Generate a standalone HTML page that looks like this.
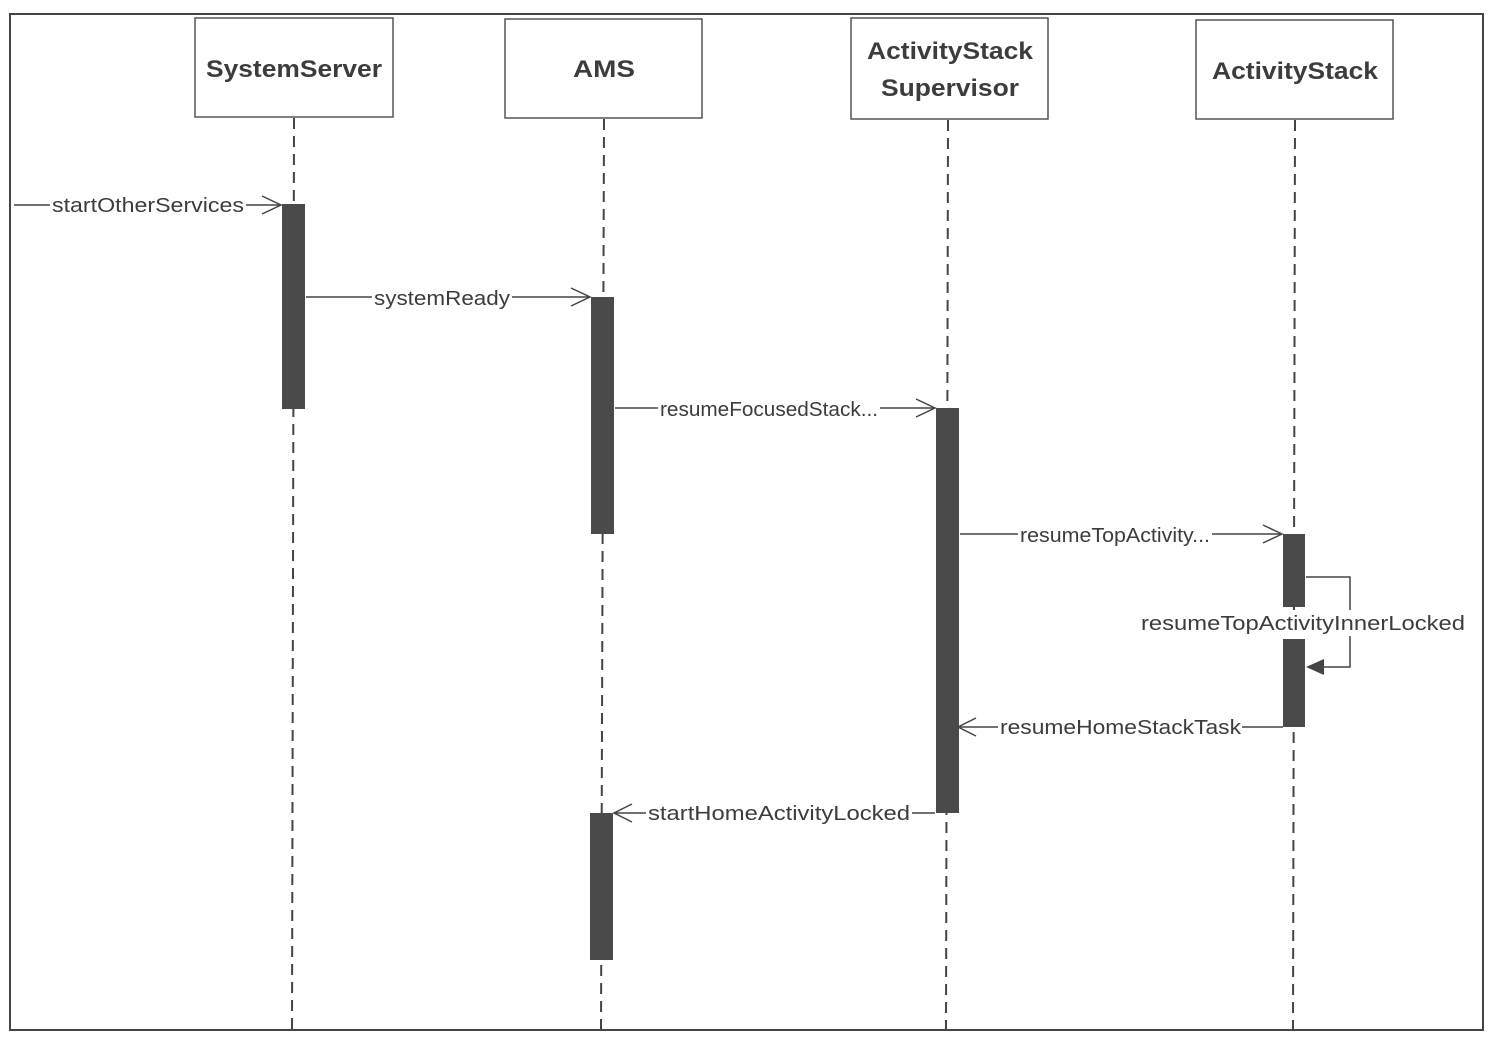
<!DOCTYPE html>
<html><head><style>body{margin:0;background:#fff}svg{display:block}</style></head><body>
<svg width="1490" height="1042" viewBox="0 0 1490 1042" xmlns="http://www.w3.org/2000/svg" font-family="Liberation Sans, sans-serif">
<rect x="0" y="0" width="1490" height="1042" fill="#fff"/>
<rect x="10" y="14" width="1473" height="1016" fill="none" stroke="#444" stroke-width="2"/>
<g fill="#fff" stroke="#555" stroke-width="1.5">
<rect x="195" y="18" width="198" height="99"/>
<rect x="505" y="19" width="197" height="99"/>
<rect x="851" y="18" width="197" height="101"/>
<rect x="1196" y="20" width="197" height="99"/>
</g>
<g fill="#3c3c3c" font-weight="bold" font-size="24" lengthAdjust="spacingAndGlyphs">
<text x="206" y="77" textLength="176" lengthAdjust="spacingAndGlyphs">SystemServer</text>
<text x="573" y="77" textLength="62" lengthAdjust="spacingAndGlyphs">AMS</text>
<text x="867" y="59" textLength="166" lengthAdjust="spacingAndGlyphs">ActivityStack</text>
<text x="881" y="96" textLength="138" lengthAdjust="spacingAndGlyphs">Supervisor</text>
<text x="1212" y="79" textLength="166" lengthAdjust="spacingAndGlyphs">ActivityStack</text>
</g>
<g stroke="#444" stroke-width="2" stroke-dasharray="11,7">
<line x1="294" y1="118" x2="292" y2="1030"/>
<line x1="604" y1="119" x2="601" y2="1030"/>
<line x1="948" y1="120" x2="946" y2="1030"/>
<line x1="1295" y1="120" x2="1293" y2="1030"/>
</g>
<g fill="#4a4a4a">
<rect x="282" y="204" width="23" height="205"/>
<rect x="591" y="297" width="23" height="237"/>
<rect x="590" y="813" width="23" height="147"/>
<rect x="936" y="408" width="23" height="405"/>
<rect x="1283" y="534" width="22" height="73"/>
<rect x="1283" y="639" width="22" height="88"/>
</g>
<g stroke="#444" stroke-width="1.5" fill="none">
<line x1="14" y1="205" x2="280" y2="205"/>
<polyline points="262,196 281,205 262,214"/>
<line x1="306" y1="297" x2="589" y2="297"/>
<polyline points="571,288 590,297 571,306"/>
<line x1="615" y1="408" x2="934" y2="408"/>
<polyline points="916,399 935,408 916,417"/>
<line x1="960" y1="534" x2="1281" y2="534"/>
<polyline points="1263,525 1282,534 1263,543"/>
<polyline points="1306,577 1350,577 1350,667 1320,667"/>
<line x1="960" y1="727" x2="1283" y2="727"/>
<polyline points="976,718 958,727 976,736"/>
<line x1="614" y1="813" x2="935" y2="813"/>
<polyline points="632,804 614,813 632,822"/>
</g>
<polygon points="1306,667 1324,659 1324,675" fill="#444"/>
<g font-size="20" fill="#3c3c3c">
<rect x="50" y="193" width="196" height="24" fill="#fff"/>
<text x="52" y="212" textLength="192" lengthAdjust="spacingAndGlyphs">startOtherServices</text>
<rect x="372" y="286" width="140" height="24" fill="#fff"/>
<text x="374" y="305" textLength="136" lengthAdjust="spacingAndGlyphs">systemReady</text>
<rect x="658" y="397" width="222" height="24" fill="#fff"/>
<text x="660" y="416" textLength="218" lengthAdjust="spacingAndGlyphs">resumeFocusedStack...</text>
<rect x="1018" y="523" width="194" height="24" fill="#fff"/>
<text x="1020" y="542" textLength="190" lengthAdjust="spacingAndGlyphs">resumeTopActivity...</text>
<rect x="1140" y="610" width="326" height="26" fill="#fff"/>
<text x="1141" y="630" textLength="324" lengthAdjust="spacingAndGlyphs">resumeTopActivityInnerLocked</text>
<rect x="998" y="715" width="244" height="24" fill="#fff"/>
<text x="1000" y="734" textLength="241" lengthAdjust="spacingAndGlyphs">resumeHomeStackTask</text>
<rect x="646" y="801" width="266" height="24" fill="#fff"/>
<text x="648" y="820" textLength="262" lengthAdjust="spacingAndGlyphs">startHomeActivityLocked</text>
</g>
</svg>
</body></html>
